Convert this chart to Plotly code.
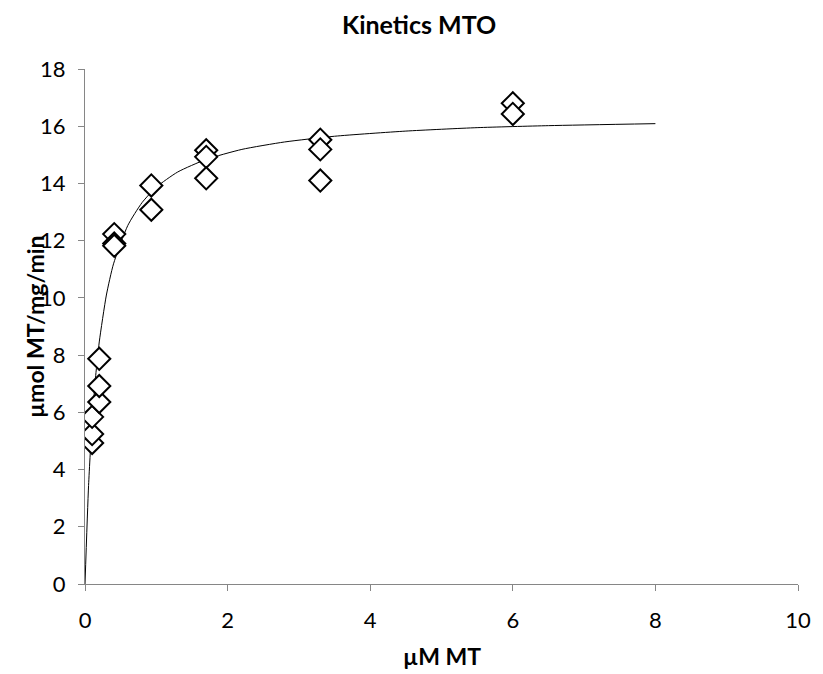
import plotly.graph_objects as go

conc = [0.1, 0.1, 0.1, 0.2, 0.2, 0.2, 0.41, 0.41, 0.41,
        0.93, 0.93, 1.7, 1.7, 1.7, 3.3, 3.3, 3.3, 6.0, 6.0]
rate = [4.93, 5.24, 5.84, 6.36, 6.92, 7.87, 12.23, 11.9, 11.82,
        13.93, 13.08, 15.16, 14.93, 14.18, 15.53, 15.19, 14.1, 16.8, 16.43]

# Fitted curve as drawn in the picture
fit_x = [0, 0.05, 0.1, 0.15, 0.2, 0.3, 0.4, 0.6, 0.8, 1.0, 1.3, 1.7,
         2.2, 2.8, 3.5, 4.5, 5.5, 6.5, 8.0]
fit_y = [0, 3.44, 5.69, 7.28, 8.46, 10.10, 11.19, 12.53, 13.33, 13.87, 14.40, 14.84,
         15.19, 15.45, 15.65, 15.83, 15.95, 16.02, 16.09]

x_ticks = [0, 2, 4, 6, 8, 10]
y_ticks = [0, 2, 4, 6, 8, 10, 12, 14, 16, 18]

FONT = "Lato, Carlito, Calibri, sans-serif"
AXIS_GRAY = "#868686"

fig = go.Figure()
fig.add_trace(go.Scatter(
    x=fit_x, y=fit_y, mode="lines",
    line=dict(color="black", width=1, shape="spline", smoothing=0.6),
    hoverinfo="skip", showlegend=False))
fig.add_trace(go.Scatter(
    x=conc, y=rate, mode="markers",
    marker=dict(symbol="diamond", size=17, color="white",
                line=dict(color="black", width=2)),
    showlegend=False))

W, H = 815, 666
ML, MR, MT, MB = 77, 17, 61, 90
PW, PH = W - ML - MR, H - MT - MB

fig.update_layout(
    width=W, height=H,
    margin=dict(l=ML, r=MR, t=MT, b=MB),
    paper_bgcolor="white", plot_bgcolor="white",
    font=dict(family=FONT, size=22, color="black"),
    xaxis=dict(range=[0, 10], tickvals=x_ticks, showgrid=False, zeroline=False,
               showline=True, linecolor=AXIS_GRAY, linewidth=1,
               ticks="outside", ticklen=6, tickcolor=AXIS_GRAY,
               ticklabelstandoff=11,
               tickfont=dict(family=FONT, size=22)),
    yaxis=dict(range=[0, 18], tickvals=y_ticks, showgrid=False, zeroline=False,
               showline=True, linecolor=AXIS_GRAY, linewidth=1,
               ticks="outside", ticklen=6, tickcolor=AXIS_GRAY,
               ticklabelstandoff=8,
               tickfont=dict(family=FONT, size=22)),
    annotations=[
        dict(text="<b>Kinetics MTO</b>", xref="paper", yref="paper",
             x=(415 - ML) / PW, y=1 + (MT - 16) / PH, xanchor="center", yanchor="middle",
             showarrow=False, font=dict(family=FONT, size=25)),
        dict(text="<b>µM MT</b>", xref="paper", yref="paper",
             x=0.5, y=-(648 - (H - MB)) / PH, xanchor="center", yanchor="middle",
             showarrow=False, font=dict(family=FONT, size=23)),
        dict(text="<b>µmol MT/mg/min</b>", xref="paper", yref="paper",
             x=(26 - ML) / PW, y=0.5, xanchor="center", yanchor="middle",
             textangle=-90, showarrow=False, font=dict(family=FONT, size=23)),
    ],
)

fig.write_html("out.html")
